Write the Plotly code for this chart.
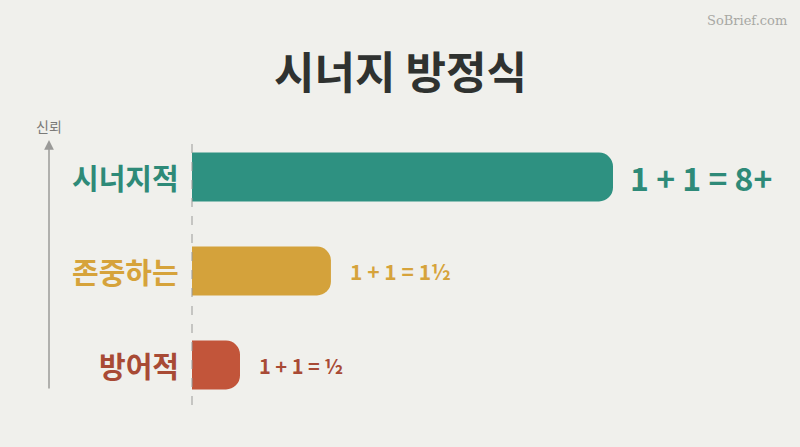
import plotly.graph_objects as go

# Data
categories = ["시너지적", "존중하는", "방어적"]
values = [100, 33, 11.4]          # relative bar lengths
equations = ["1 + 1 = 8+", "1 + 1 = 1½", "1 + 1 = ½"]
bar_colors = ["#2e9181", "#d4a23b", "#c2553a"]
label_colors = ["#2e8a78", "#d6a33b", "#a84a35"]
eq_sizes = [32, 21, 20]
eq_shift = [15, 17, 17]
positions = [2, 1, 0]

BG = "#f0f0ec"
FONT = "Noto Sans CJK KR"

fig = go.Figure()
fig.add_trace(go.Bar(
    x=values, y=positions, orientation="h",
    marker=dict(color=bar_colors, line=dict(width=0)),
    width=0.52, hoverinfo="skip", showlegend=False,
))

annotations = []
for cat, v, eq, p, lc, bc, es, sh in zip(categories, values, equations, positions,
                                          label_colors, bar_colors, eq_sizes, eq_shift):
    annotations.append(dict(x=0, y=p, xref="x", yref="y", text=f"<b>{cat}</b>",
                            showarrow=False, xanchor="right", yanchor="middle", xshift=-11,
                            font=dict(family=FONT, size=29, color=lc, weight=900)))
    annotations.append(dict(x=v, y=p, xref="x", yref="y", text=f"<b>{eq}</b>",
                            showarrow=False, xanchor="left", yanchor="middle", xshift=sh,
                            font=dict(family=FONT, size=es, color=lc, weight=900)))

# title
annotations.append(dict(x=0.5, y=1 - 70 / 447, xref="paper", yref="paper",
                        xanchor="center", yanchor="middle",
                        text="<b>시너지 방정식</b>", showarrow=False,
                        font=dict(family=FONT, size=44, color="#2f3230", weight=900)))
# watermark
annotations.append(dict(x=789 / 800, y=1 - 20 / 447, xref="paper", yref="paper",
                        text="SoBrief.com", showarrow=False, xanchor="right", yanchor="middle",
                        font=dict(family="DejaVu Serif", size=13, color="#a8a8a4")))
# trust arrow
annotations.append(dict(x=49 / 800, y=1 - 140 / 447, xref="paper", yref="paper",
                        text="", showarrow=True, ax=0, ay=250, axref="pixel", ayref="pixel",
                        arrowhead=2, arrowsize=1.3, arrowwidth=1.5, arrowcolor="#9a9a98"))
annotations.append(dict(x=49 / 800, y=1 - 126 / 447, xref="paper", yref="paper",
                        xanchor="center", yanchor="middle",
                        text="신뢰", showarrow=False,
                        font=dict(family=FONT, size=14, color="#7a7a78")))

px_per_unit = 421 / 100
fig.update_layout(
    width=800, height=447,
    paper_bgcolor=BG, plot_bgcolor=BG,
    margin=dict(l=0, r=0, t=0, b=0),
    barcornerradius=14,
    xaxis=dict(range=[-192 / px_per_unit, 608 / px_per_unit], visible=False, fixedrange=True),
    yaxis=dict(range=[(365 - 447) / 94, 365 / 94], visible=False, fixedrange=True),
    annotations=annotations,
    shapes=[dict(type="line", x0=0, x1=0, xref="x", yref="y",
                 y0=(365 - 405) / 94, y1=(365 - 135) / 94,
                 line=dict(color="#9a9a98", width=1, dash="dash"), layer="above")],
)

fig.write_html("out.html", config={"displayModeBar": False},
               post_script="document.body.style.margin='0';")
